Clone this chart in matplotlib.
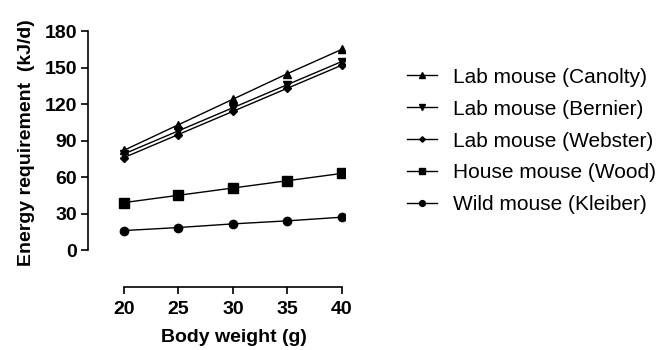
import numpy as np
import matplotlib.pyplot as plt

plt.rcParams['font.family'] = ['Liberation Sans', 'DejaVu Sans']

# data
weight = [20, 25, 30, 35, 40]
canolty = [82, 103, 124, 145, 165]
bernier = [79, 98, 117, 136, 155]
webster = [76, 95, 114, 133, 152]
wood = [39, 45, 51, 57, 63]
kleiber = [16, 18.5, 21.5, 24, 27]

series = [
    ('Lab mouse (Canolty)', canolty, '^', 6),
    ('Lab mouse (Bernier)', bernier, 'v', 6),
    ('Lab mouse (Webster)', webster, 'D', 4),
    ('House mouse (Wood)', wood, 's', 6.5),
    ('Wild mouse (Kleiber)', kleiber, 'o', 6),
]

fig = plt.figure(figsize=(6.66, 3.5), dpi=100)
ax = fig.add_axes([0.1321, 0.18, 0.386, 0.738])

for label, vals, mk, ms in series:
    ax.plot(weight, vals, color='black', lw=1, marker=mk, ms=ms, label=label)

ax.set_xlim(16.7, 40.3)
ax.set_ylim(-30.4, 182)
ax.set_xticks(weight)
ax.set_yticks([0, 30, 60, 90, 120, 150, 180])

ax.spines['top'].set_visible(False)
ax.spines['right'].set_visible(False)
ax.spines['left'].set_bounds(0, 180)
ax.spines['bottom'].set_bounds(20, 40)
for s in ('left', 'bottom'):
    ax.spines[s].set_linewidth(1.2)
ax.tick_params(direction='out', length=5, width=1.2, labelsize=14)
ax.tick_params(axis='x', pad=5)
ax.tick_params(axis='y', pad=3)
for t in ax.get_xticklabels() + ax.get_yticklabels():
    t.set_fontweight('bold')

# labels centred on the shortened spines, like the reference
ax.set_xlabel('Body weight (g)', fontsize=14, fontweight='bold', labelpad=8, x=0.568)
ax.set_ylabel('Energy requirement  (kJ/d)', fontsize=14, fontweight='bold', labelpad=7, y=0.56)

leg = ax.legend(loc='upper left', bbox_to_anchor=(0.583, 0.86), bbox_transform=fig.transFigure,
                frameon=False, fontsize=15, markerscale=0.7, handlelength=1.45,
                handletextpad=0.75, labelspacing=0.62)

fig.savefig('out.png', dpi=100, facecolor='white')
